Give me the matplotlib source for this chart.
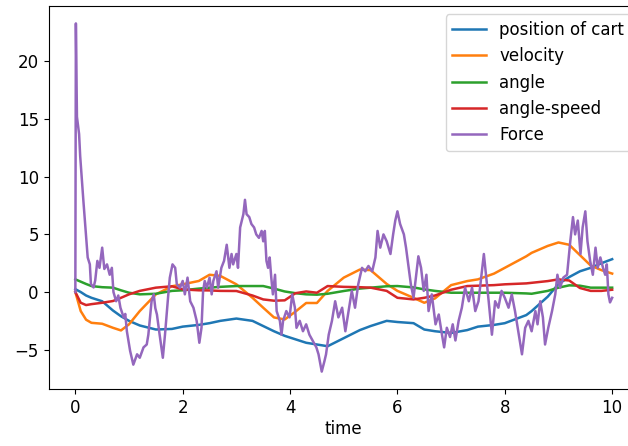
import matplotlib
matplotlib.use("Agg")
import matplotlib.pyplot as plt

# values (time, value)
t_smooth = [0.0, 0.1, 0.2, 0.3, 0.5, 0.7, 0.85, 1.0, 1.2, 1.5, 1.8, 2.0, 2.3, 2.5,
            2.7, 3.0, 3.3, 3.5, 3.7, 3.9, 4.1, 4.3, 4.5, 4.7, 5.0, 5.3, 5.5, 5.8,
            6.0, 6.3, 6.5, 6.7, 7.0, 7.3, 7.5, 7.8, 8.0, 8.4, 8.5, 8.8, 9.0, 9.2,
            9.4, 9.6, 9.8, 10.0]

position = [0.25, 0.0, -0.3, -0.5, -0.8, -1.6, -2.1, -2.5, -2.9, -3.25, -3.2, -3.0, -2.85, -2.7,
            -2.5, -2.3, -2.5, -2.95, -3.4, -3.8, -4.1, -4.4, -4.55, -4.7, -4.0, -3.3, -2.95, -2.5,
            -2.6, -2.7, -3.25, -3.4, -3.55, -3.3, -3.0, -2.85, -2.7, -2.0, -1.65, -0.4, 0.7, 1.3,
            1.8, 2.1, 2.5, 2.85]

velocity = [0.0, -1.65, -2.4, -2.67, -2.75, -3.1, -3.33, -2.8, -1.65, -0.2, 0.5, 0.67, 0.96, 1.5,
            1.4, 0.67, -0.5, -1.36, -2.2, -2.38, -1.7, -0.95, -0.95, 0.1, 1.25, 1.95, 1.9, 0.7,
            0.1, -0.5, -0.93, -0.55, 0.6, 0.95, 1.1, 1.6, 2.1, 3.1, 3.4, 4.0, 4.3, 4.1,
            3.2, 2.3, 1.9, 1.6]

angle = [1.1, 0.9, 0.7, 0.52, 0.42, 0.38, 0.15, -0.06, -0.2, -0.15, 0.1, 0.15, 0.3, 0.38,
         0.45, 0.52, 0.52, 0.52, 0.3, 0.05, -0.1, -0.2, -0.23, -0.15, 0.09, 0.3, 0.38, 0.5,
         0.52, 0.4, 0.23, 0.1, -0.06, -0.06, -0.06, -0.06, -0.06, -0.12, -0.15, 0.1, 0.38, 0.58,
         0.55, 0.38, 0.38, 0.38]

angle_speed = [0.0, -0.93, -1.13, -1.05, -0.93, -0.78, -0.5, -0.2, 0.1, 0.38, 0.5, 0.23, 0.15, 0.14,
               0.1, 0.09, -0.3, -0.64, -0.75, -0.72, -0.1, 0.05, -0.06, 0.52, 0.45, 0.42, 0.38, 0.1,
               -0.5, -0.64, -0.5, -0.3, 0.2, 0.52, 0.55, 0.6, 0.67, 0.75, 0.8, 0.95, 1.1, 1.0,
               0.35, 0.1, 0.1, 0.2]

t_force = [0.0, 0.01, 0.03, 0.07, 0.09, 0.15, 0.23, 0.27, 0.29, 0.34, 0.37, 0.41, 0.45, 0.5,
           0.54, 0.59, 0.64, 0.68, 0.71, 0.76, 0.8, 0.84, 0.9, 0.93, 0.96, 1.02, 1.08, 1.15,
           1.2, 1.27, 1.33, 1.36, 1.42, 1.46, 1.49, 1.52, 1.57, 1.63, 1.67, 1.73, 1.76, 1.81,
           1.86, 1.89, 1.95, 2.0, 2.04, 2.09, 2.14, 2.2, 2.26, 2.31, 2.35, 2.38, 2.41, 2.45,
           2.5, 2.54, 2.57, 2.63, 2.66, 2.72, 2.77, 2.82, 2.87, 2.91, 2.94, 3.0, 3.03, 3.07,
           3.13, 3.16, 3.19, 3.24, 3.28, 3.33, 3.37, 3.42, 3.47, 3.5, 3.53, 3.56, 3.59, 3.62,
           3.65, 3.68, 3.72, 3.75, 3.81, 3.84, 3.87, 3.93, 3.99, 4.04, 4.09, 4.12, 4.18, 4.24,
           4.3, 4.36, 4.43, 4.49, 4.53, 4.59, 4.64, 4.67, 4.72, 4.78, 4.84, 4.9, 4.97, 5.03,
           5.09, 5.15, 5.21, 5.27, 5.34, 5.4, 5.46, 5.53, 5.59, 5.63, 5.68, 5.74, 5.8, 5.87,
           5.92, 5.96, 6.0, 6.05, 6.12, 6.16, 6.21, 6.25, 6.3, 6.35, 6.39, 6.44, 6.49, 6.54,
           6.58, 6.64, 6.71, 6.77, 6.83, 6.87, 6.92, 6.98, 7.03, 7.08, 7.14, 7.2, 7.26, 7.33,
           7.39, 7.45, 7.51, 7.58, 7.61, 7.65, 7.7, 7.76, 7.82, 7.88, 7.94, 8.0, 8.07, 8.13,
           8.19, 8.25, 8.32, 8.38, 8.44, 8.5, 8.57, 8.61, 8.66, 8.71, 8.75, 8.81, 8.88, 8.94,
           8.98, 9.03, 9.09, 9.16, 9.22, 9.27, 9.31, 9.36, 9.41, 9.45, 9.5, 9.54, 9.59, 9.64,
           9.69, 9.73, 9.78, 9.83, 9.87, 9.9, 9.93, 9.96, 10.0]

force = [0.0, 23.3, 15.2, 13.7, 11.8, 7.9, 3.0, 2.4, 0.7, 0.4, 1.0, 2.7, 2.1, 3.85,
         2.0, 2.4, 1.5, 2.1, 0.0, -0.8, -0.3, -1.36, -2.2, -1.9, -3.4, -5.1, -6.3, -5.4,
         -5.7, -4.8, -4.55, -3.7, -0.8, -0.2, -1.4, -1.95, -3.7, -5.7, -3.7, -0.3, 1.25, 2.4,
         2.1, 0.67, 0.38, 0.96, -0.2, 1.25, -0.8, -1.36, -2.5, -4.4, -3.1, 0.1, 0.96, 0.38,
         1.25, -0.2, 0.96, 1.8, 0.38, 2.1, 2.7, 4.1, 2.1, 3.3, 2.4, 3.3, 2.1, 5.6,
         6.75, 8.0, 6.75, 6.5, 5.9, 5.6, 5.0, 4.7, 5.3, 4.4, 5.3, 2.7, 2.1, 3.0,
         1.25, -0.2, 1.5, -1.65, -2.5, -3.7, -2.5, -1.65, -2.2, -0.2, -1.36, -3.1, -2.5, -3.4,
         -2.8, -3.7, -4.3, -4.8, -5.4, -6.9, -6.0, -5.4, -3.7, -2.5, -0.8, -2.2, -1.36, -3.4,
         -1.65, 0.1, -1.36, 0.67, 2.1, 1.8, 2.26, 1.8, 3.0, 5.3, 3.85, 5.0, 4.4, 3.3,
         5.0, 6.2, 7.0, 5.9, 5.0, 3.85, 2.1, 0.67, -0.5, 1.5, 3.1, 2.1, 0.1, 1.5,
         -1.65, -0.2, -2.8, -1.95, -3.7, -4.8, -3.1, -3.9, -2.8, -4.2, -2.5, -1.36, 0.38, -0.8,
         0.38, -1.65, -0.8, 2.1, 3.3, 1.5, -0.8, -3.7, -0.8, -1.36, 0.1, -0.5, -1.36, -0.2,
         -1.65, -3.4, -5.4, -3.1, -2.5, -3.4, -1.65, -2.8, -0.8, -2.2, -4.55, -3.1, -1.65, -0.2,
         1.5, 0.38, 1.25, 1.5, 4.4, 6.5, 5.0, 6.2, 3.3, 5.6, 7.0, 4.4, 2.7, 1.5,
         3.85, 2.1, 3.0, 2.1, 1.5, 2.4, -0.2, -0.9, -0.5]

plt.rcParams['font.size'] = 12
plt.rcParams['lines.linewidth'] = 1.8

fig = plt.figure(figsize=(6.28, 4.46), dpi=100)
# axes run a little past the right edge, as in the (cropped) reference
ax = fig.add_axes([48.5 / 628, 57 / 446, (639 - 48.5) / 628, 383 / 446])

ax.plot(t_smooth, position, label='position of cart')
ax.plot(t_smooth, velocity, label='velocity')
ax.plot(t_smooth, angle, label='angle')
ax.plot(t_smooth, angle_speed, label='angle-speed')
ax.plot(t_force, force, label='Force')

ax.set_xlim(-0.5, 10.5)
ax.set_xlabel('time', labelpad=2)
ax.legend(loc='upper right')

plt.savefig('out.png', dpi=100)
